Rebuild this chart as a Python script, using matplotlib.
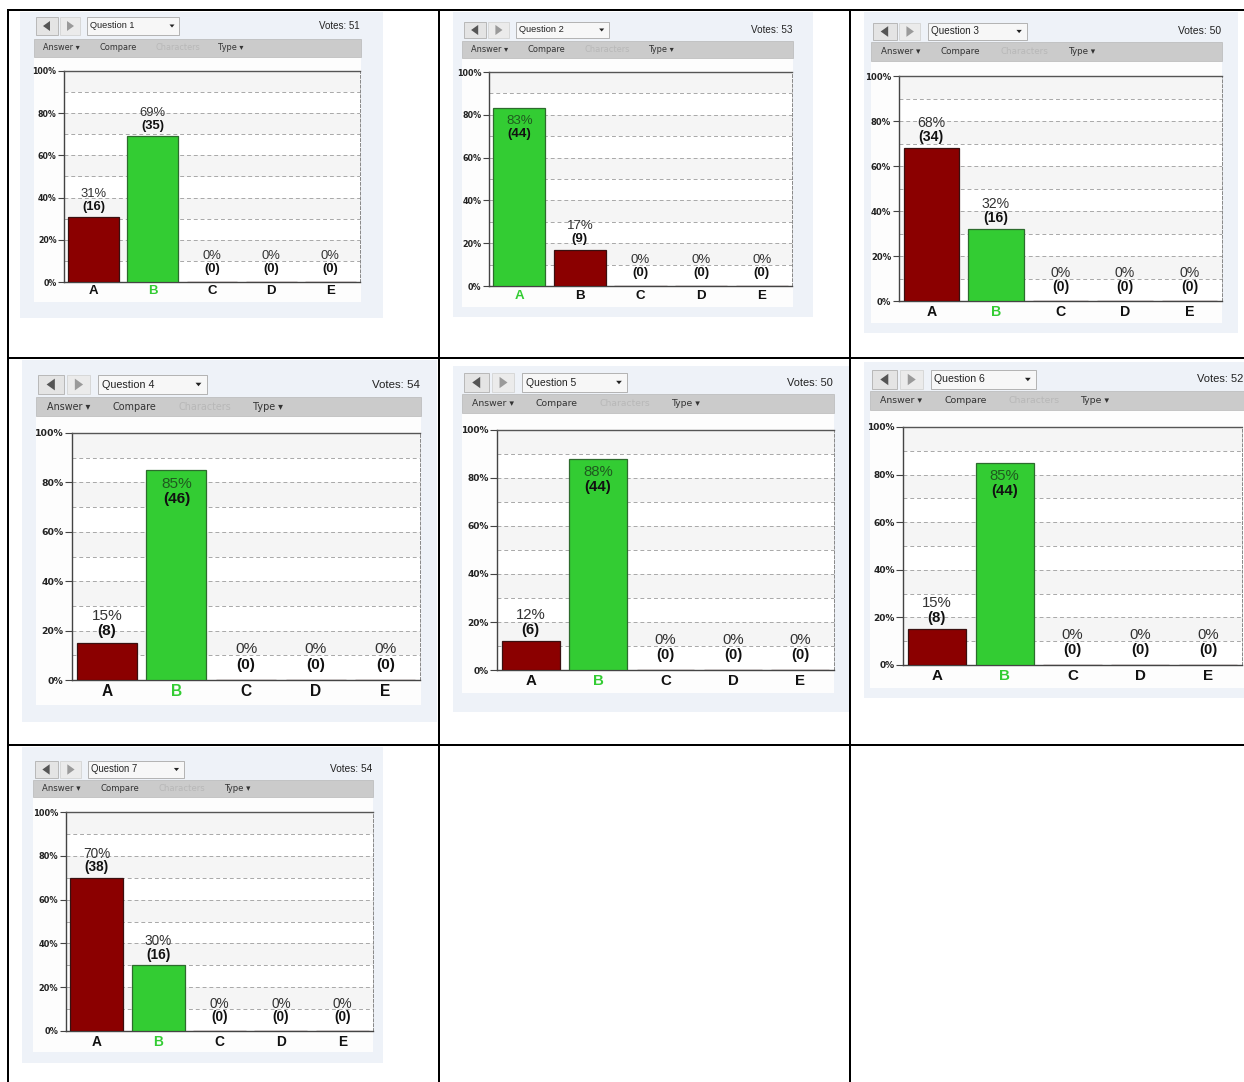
import matplotlib
matplotlib.use("Agg")
import matplotlib.pyplot as plt
from matplotlib.patches import Rectangle, Polygon

# ---------------- data ----------------
categories = ["A", "B", "C", "D", "E"]
questions = ["Question 1", "Question 2", "Question 3", "Question 4",
             "Question 5", "Question 6", "Question 7"]
votes = [51, 53, 50, 54, 50, 52, 54]
q1_pct = [31, 69, 0, 0, 0]
q1_cnt = [16, 35, 0, 0, 0]
q2_pct = [83, 17, 0, 0, 0]
q2_cnt = [44, 9, 0, 0, 0]
q3_pct = [68, 32, 0, 0, 0]
q3_cnt = [34, 16, 0, 0, 0]
q4_pct = [15, 85, 0, 0, 0]
q4_cnt = [8, 46, 0, 0, 0]
q5_pct = [12, 88, 0, 0, 0]
q5_cnt = [6, 44, 0, 0, 0]
q6_pct = [15, 85, 0, 0, 0]
q6_cnt = [8, 44, 0, 0, 0]
q7_pct = [70, 30, 0, 0, 0]
q7_cnt = [38, 16, 0, 0, 0]
correct = ["B", "A", "B", "B", "B", "B", "B"]
yticks = [0, 20, 40, 60, 80, 100]

pcts = [q1_pct, q2_pct, q3_pct, q4_pct, q5_pct, q6_pct, q7_pct]
cnts = [q1_cnt, q2_cnt, q3_cnt, q4_cnt, q5_cnt, q6_cnt, q7_cnt]

# ---------------- layout (pixels) ----------------
W, H = 1244, 1082
layout = [
    dict(bg=(20, 12, 383, 318), tb=(34, 39, 361, 57), wb=302, ax=(64, 71, 360, 282), hdr=(17, 35)),
    dict(bg=(453, 12, 813, 317), tb=(462, 41, 793, 58), wb=307, ax=(489, 72, 792, 286), hdr=(22, 38)),
    dict(bg=(864, 12, 1238, 333), tb=(871, 42, 1222, 61), wb=323, ax=(899, 76, 1222, 301), hdr=(23, 40)),
    dict(bg=(22, 360, 437, 722), tb=(36, 397, 421, 416), wb=705, ax=(72, 433, 420, 680), hdr=(375, 394)),
    dict(bg=(453, 366, 849, 712), tb=(462, 394, 834, 413), wb=693, ax=(497, 430, 834, 670), hdr=(373, 392)),
    dict(bg=(864, 362, 1244, 698), tb=(870, 391, 1244, 410), wb=688, ax=(903, 427, 1242, 665), hdr=(370, 389)),
    dict(bg=(22, 747, 383, 1063), tb=(33, 780, 373, 797), wb=1052, ax=(66, 812, 373, 1031), hdr=(761, 778)),
]

RED = "#8b0000"
GREEN = "#33cc33"
PX = 72.0 / 100.0  # points per pixel

fig = plt.figure(figsize=(W / 100, H / 100), dpi=100)
fig.patch.set_facecolor("white")
bgax = fig.add_axes([0, 0, 1, 1])
bgax.set_xlim(0, W)
bgax.set_ylim(H, 0)
bgax.axis("off")

# table lines
lw = 2 * PX
bgax.plot([8, W], [10, 10], color="black", lw=lw)
for x in (8, 439, 850):
    bgax.plot([x, x], [10, H], color="black", lw=lw)
for y in (358, 745):
    bgax.plot([8, W], [y, y], color="black", lw=lw)

UI = "DejaVu Sans"
CH = "Liberation Sans"

for i, L in enumerate(layout):
    bx0, by0, bx1, by1 = L["bg"]
    tx0, ty0, tx1, ty1 = L["tb"]
    s = (tx1 - tx0) / 327.0
    bgax.add_patch(Rectangle((bx0, by0), bx1 - bx0, by1 - by0, fc="#eef2f8", ec="none", zorder=2))
    bgax.add_patch(Rectangle((tx0, ty1), tx1 - tx0, L["wb"] - ty1, fc="#fdfdfd", ec="none", zorder=3))
    bgax.add_patch(Rectangle((tx0, ty0), tx1 - tx0, ty1 - ty0, fc="#cbcbcb", ec="#b8b8b8", lw=0.5, zorder=3))
    hy0, hy1 = L["hdr"]
    hc = (hy0 + hy1) / 2
    hh = hy1 - hy0
    # nav buttons
    bgax.add_patch(Rectangle((tx0 + 2 * s, hy0), 22 * s, hh, fc="#e4e4e4", ec="#b0b0b0", lw=0.6, zorder=3))
    cx = tx0 + 13 * s
    bgax.add_patch(Polygon([(cx - 4 * s, hc), (cx + 3 * s, hc - 5 * s), (cx + 3 * s, hc + 5 * s)],
                           closed=True, fc="#555555", ec="none", zorder=4))
    bgax.add_patch(Rectangle((tx0 + 26 * s, hy0), 20 * s, hh, fc="#ebebeb", ec="#d4d4d4", lw=0.6, zorder=3))
    cx = tx0 + 36 * s
    bgax.add_patch(Polygon([(cx + 4 * s, hc), (cx - 3 * s, hc - 5 * s), (cx - 3 * s, hc + 5 * s)],
                           closed=True, fc="#9a9a9a", ec="none", zorder=4))
    # dropdown
    bgax.add_patch(Rectangle((tx0 + 53 * s, hy0), 92 * s, hh, fc="#f7f7f7", ec="#a8a8a8", lw=0.6, zorder=3))
    bgax.text(tx0 + 56 * s, hc, questions[i], fontsize=6.6 * s, family=CH, color="#222222",
              va="center", ha="left", zorder=5)
    cx = tx0 + 138 * s
    bgax.add_patch(Polygon([(cx - 2.5 * s, hc - 1.5 * s), (cx + 2.5 * s, hc - 1.5 * s), (cx, hc + 1.5 * s)],
                           closed=True, fc="#222222", ec="none", zorder=4))
    bgax.text(tx1 - 1, hc, "Votes: %d" % votes[i], fontsize=7.0 * s, family=CH, color="#222222",
              va="center", ha="right", zorder=5)
    # toolbar items
    tyc = (ty0 + ty1) / 2
    for off, lab, col in [(9, "Answer \u25be", "#333333"), (65, "Compare", "#333333"),
                          (121, "Characters", "#b8b8b8"), (184, "Type \u25be", "#333333")]:
        bgax.text(tx0 + off * s, tyc, lab, fontsize=5.9 * s, family=UI, color=col,
                  va="center", ha="left", zorder=5)

    # chart axes
    ax0, ay0, ax1, ay1 = L["ax"]
    ax = fig.add_axes([ax0 / W, 1 - ay1 / H, (ax1 - ax0) / W, (ay1 - ay0) / H])
    ax.set_facecolor("white")
    ax.set_xlim(-0.5, len(categories) - 0.5)
    ax.set_ylim(0, 100)
    for lo in range(10, 100, 20):
        ax.axhspan(lo, lo + 10, color="#f5f5f5", lw=0, zorder=0)
    for g in range(10, 100, 10):
        ax.axhline(g, color="#a8a8a8", lw=0.7, ls=(0, (4, 3)), zorder=1)
    for sp in ("left", "bottom"):
        ax.spines[sp].set_color("#444444")
        ax.spines[sp].set_linewidth(1.0)
    ax.spines["top"].set_color("#555555")
    ax.spines["top"].set_linestyle((0, (4, 1)))
    ax.spines["top"].set_linewidth(1.0)
    ax.spines["right"].set_color("#888888")
    ax.spines["right"].set_linestyle((0, (3, 2)))
    ax.spines["right"].set_linewidth(0.7)

    p = pcts[i]
    c = cnts[i]
    xs = list(range(len(categories)))
    colors = [GREEN if cat == correct[i] else RED for cat in categories]
    edges = ["#2d6b2d" if cat == correct[i] else "#3a1010" for cat in categories]
    ax.bar(xs, p, width=0.86, color=colors, edgecolor=edges, linewidth=0.9, zorder=3)

    fs_pct = 9.4 * s
    for x, v, n, col in zip(xs, p, c, colors):
        if v > 80:
            ax.annotate("%d%%" % v, (x, v), xytext=(0, -12 * s * PX), textcoords="offset points",
                        ha="center", va="center", fontsize=fs_pct, family=CH, color="#1f5a1f", zorder=5)
            ax.annotate("(%d)" % n, (x, v), xytext=(0, -25 * s * PX), textcoords="offset points",
                        ha="center", va="center", fontsize=fs_pct, family=CH, weight="bold",
                        color="#111111", zorder=5)
        else:
            extra = 3 if v == 0 else 0
            ax.annotate("%d%%" % v, (x, v), xytext=(0, (23 + extra) * s * PX), textcoords="offset points",
                        ha="center", va="center", fontsize=fs_pct, family=CH, color="#333333", zorder=5)
            ax.annotate("(%d)" % n, (x, v), xytext=(0, (10 + extra) * s * PX), textcoords="offset points",
                        ha="center", va="center", fontsize=fs_pct, family=CH, weight="bold",
                        color="#111111", zorder=5)

    ax.set_yticks(yticks)
    ax.set_yticklabels(["%d%%" % t for t in yticks], fontsize=5.7 * s, family=UI, weight="bold",
                       color="#222222")
    ax.tick_params(axis="y", length=6 * s * PX, width=0.8, color="#444444", pad=1)
    ax.set_xticks(xs)
    ax.set_xticklabels(categories, fontsize=9.5 * s, family=CH, weight="bold")
    ax.tick_params(axis="x", length=0, pad=3.5 * s * PX)
    for lab, col in zip(ax.get_xticklabels(), colors):
        lab.set_color(GREEN if col == GREEN else "#111111")

fig.savefig("out.png", dpi=100, facecolor="white")
